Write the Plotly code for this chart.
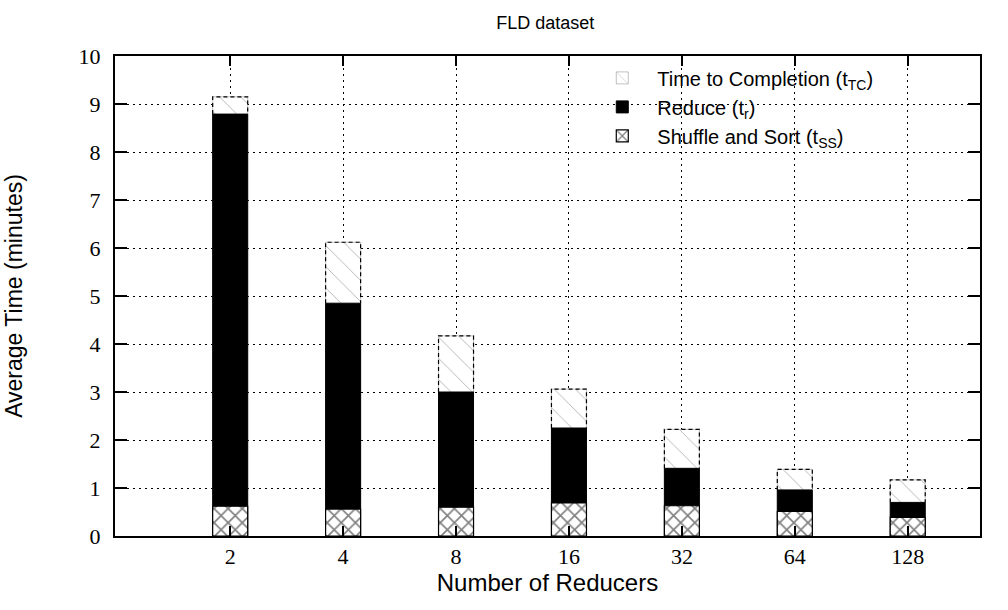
import plotly.graph_objects as go

categories = ["2", "4", "8", "16", "32", "64", "128"]
shuffle_sort = [0.62, 0.56, 0.60, 0.69, 0.63, 0.51, 0.39]
reduce_t = [8.79, 4.85, 3.00, 2.25, 1.41, 0.96, 0.70]
completion = [9.15, 6.12, 4.17, 3.06, 2.22, 1.39, 1.17]

xs = list(range(len(categories)))
W = 0.31

fig = go.Figure()
fig.add_trace(go.Bar(
    x=xs, y=completion, width=W, name="Time to Completion (t<sub>TC</sub>)",
    marker=dict(color="white", line=dict(color="#999", width=0.6),
                pattern=dict(shape="\\", fgcolor="#444", bgcolor="white", size=15, solidity=0.05)),
))
fig.add_trace(go.Bar(
    x=xs, y=reduce_t, width=W, name="Reduce (t<sub>r</sub>)",
    marker=dict(color="black", line=dict(color="black", width=1)),
))
fig.add_trace(go.Bar(
    x=xs, y=shuffle_sort, width=W, name="Shuffle and Sort (t<sub>SS</sub>)",
    marker=dict(color="white", line=dict(color="black", width=1.2),
                pattern=dict(shape="x", fgcolor="black", bgcolor="white", size=10, solidity=0.3)),
))

# dashed outline of completion segment
ox, oy = [], []
for i, (r, c) in enumerate(zip(reduce_t, completion)):
    ox += [i - W / 2, i - W / 2, i + W / 2, i + W / 2, None]
    oy += [r, c, c, r, None]
fig.add_trace(go.Scatter(x=ox, y=oy, mode="lines", showlegend=False, hoverinfo="skip",
                         line=dict(color="black", width=1.2, dash="4px,3px")))

fig.update_layout(
    barmode="overlay",
    width=1008, height=610,
    margin=dict(l=111, r=28, t=56, b=74),
    paper_bgcolor="white", plot_bgcolor="white",
    title=dict(text="FLD dataset", x=0.541, xanchor="center", y=0.963, yanchor="middle",
               font=dict(family="Liberation Sans", size=18, color="black")),
    legend=dict(x=0.546, y=0.995, xanchor="left", yanchor="top", bgcolor="rgba(0,0,0,0)",
                font=dict(family="Liberation Sans", size=20, color="black"),
                itemwidth=60, tracegroupgap=0),
    showlegend=True,
)
fig.update_xaxes(
    range=[-1.02, 6.64], tickvals=xs, ticktext=categories,
    showline=True, linecolor="black", linewidth=2, mirror="ticks",
    ticks="inside", ticklen=10, tickcolor="black", tickwidth=1.5,
    showgrid=True, gridcolor="black", gridwidth=1, griddash="2px,4px",
    zeroline=False, ticklabelstandoff=0,
    tickfont=dict(family="Liberation Serif", size=22, color="black"),
    title=dict(text="Number of Reducers", standoff=4,
               font=dict(family="Liberation Sans", size=24, color="black")),
)
fig.update_yaxes(
    range=[0, 10], dtick=1,
    showline=True, linecolor="black", linewidth=2, mirror="ticks",
    ticks="inside", ticklen=12, tickcolor="black", tickwidth=1.5,
    showgrid=True, gridcolor="black", gridwidth=1, griddash="2px,4px",
    zeroline=False, ticklabelstandoff=8,
    tickfont=dict(family="Liberation Serif", size=22, color="black"),
    title=dict(text="Average Time (minutes)", standoff=50,
               font=dict(family="Liberation Sans", size=23, color="black")),
)

fig.write_html("out.html", config={"displayModeBar": False},
               post_script="document.body.style.margin='0';document.body.style.overflow='hidden';")
